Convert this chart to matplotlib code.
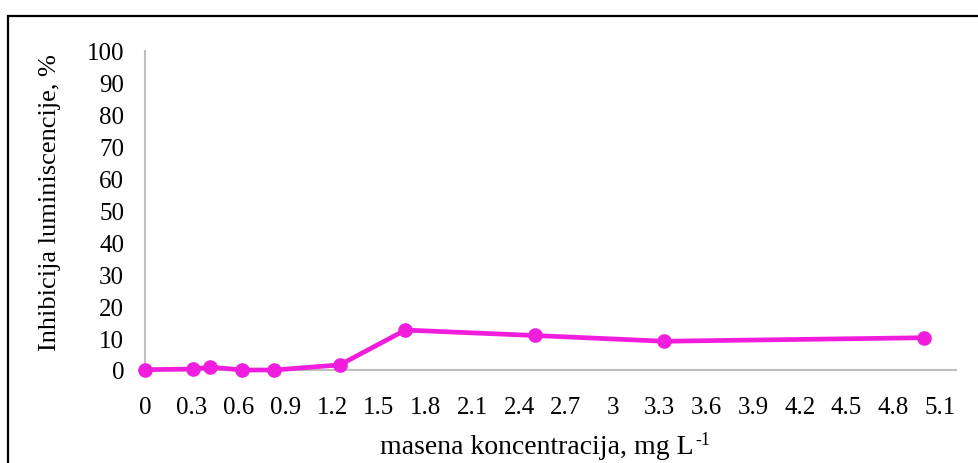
import matplotlib
matplotlib.use("Agg")
import matplotlib.pyplot as plt
from matplotlib.patches import Rectangle

conc = [0, 0.31, 0.42, 0.625, 0.83, 1.25, 1.67, 2.5, 3.33, 5.0]
inhib = [0.1, 0.3, 0.9, 0.0, 0.0, 1.6, 12.5, 10.8, 9.0, 10.1]
xticks = [0, 0.3, 0.6, 0.9, 1.2, 1.5, 1.8, 2.1, 2.4, 2.7, 3, 3.3, 3.6, 3.9, 4.2, 4.5, 4.8, 5.1]
xticklabels = ["0", "0.3", "0.6", "0.9", "1.2", "1.5", "1.8", "2.1", "2.4", "2.7", "3",
               "3.3", "3.6", "3.9", "4.2", "4.5", "4.8", "5.1"]
yticks = [0, 10, 20, 30, 40, 50, 60, 70, 80, 90, 100]

plt.rcParams['font.family'] = ['Liberation Serif', 'DejaVu Serif']

W, H = 979, 464
fig = plt.figure(figsize=(W / 100, H / 100), dpi=100)
fig.patch.set_facecolor("white")

# outer chart border (partly off-canvas)
fig.patches.append(Rectangle((8.5 / W, -0.1), 1.2, 1 - 16.5 / H + 0.1,
                             transform=fig.transFigure, fill=False,
                             edgecolor="black", linewidth=1.6))

left, right = 145 / W, 955.6 / W
bottom, top = 1 - 371 / H, 1 - 51.5 / H
ax = fig.add_axes([left, bottom, right - left, top - bottom])

ax.plot(conc, inhib, color="#F01EDC", linewidth=3.4, marker="o",
        markersize=9.5, markerfacecolor="#F01EDC", markeredgecolor="#F01EDC",
        clip_on=False, zorder=3)

ax.set_xlim(0, 5.2)
ax.set_ylim(0, 100)
ax.set_xticks(xticks)
ax.set_xticklabels(xticklabels)
ax.set_yticks(yticks)

for s in ["top", "right"]:
    ax.spines[s].set_visible(False)
for s in ["left", "bottom"]:
    ax.spines[s].set_color("#BFBFBF")
    ax.spines[s].set_linewidth(1.5)

ax.tick_params(axis="both", length=0, labelsize=18, colors="black")
ax.tick_params(axis="x", pad=19)
ax.tick_params(axis="y", pad=15)

fig.text(50 / W, 1 - 203 / H, "Inhibicija luminiscencije, %", rotation=90,
         ha="center", va="center", fontsize=19)
main = fig.text(537 / W, 1 - 448 / H, "masena koncentracija, mg L",
                ha="center", va="center", fontsize=20)
ax.annotate("-1", xy=(1.0, 0.78), xycoords=main, xytext=(1, 0),
            textcoords="offset points", ha="left", va="center", fontsize=13,
            annotation_clip=False)

fig.savefig("out.png", dpi=100, facecolor="white")
